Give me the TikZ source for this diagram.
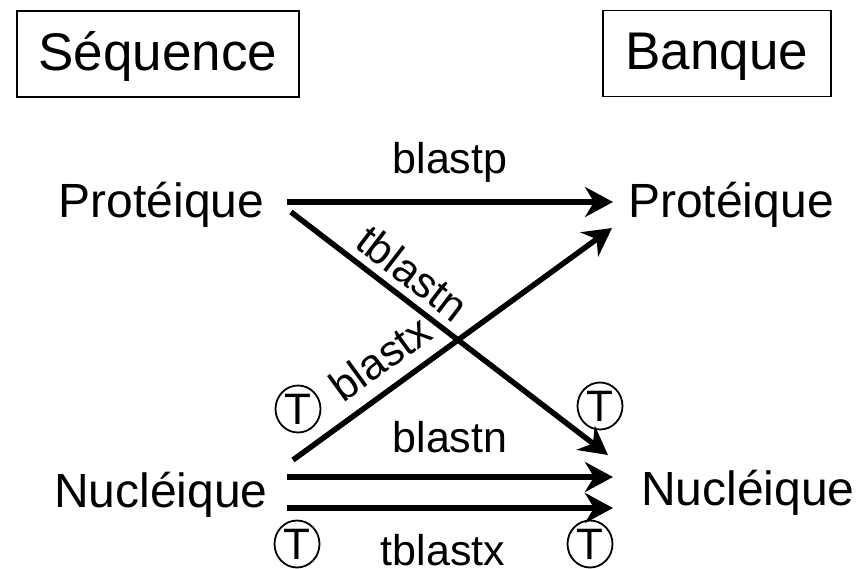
\documentclass[tikz,border=0pt]{standalone}
\usepackage{fontspec}
\setmainfont{Liberation Sans}
\usetikzlibrary{arrows.meta,shapes.geometric}
\tikzset{
 hdr/.style={draw,line width=1.8pt,inner sep=0pt,font=\fontsize{53}{60}\selectfont,text height=38pt,text depth=5pt,minimum height=86pt},
 kind/.style={anchor=base,inner sep=0pt,font=\fontsize{48}{56}\selectfont},
 prog/.style={inner sep=0pt,font=\fontsize{43}{50}\selectfont},
 tmark/.style={draw,ellipse,line width=1.8pt,minimum width=45pt,minimum height=47pt,inner sep=0pt,font=\fontsize{44}{50}\selectfont},
 conn/.style={line width=5.5pt,-{Stealth[length=28pt,width=30pt,inset=9pt]}}
}
\begin{document}
\begin{tikzpicture}[x=1pt,y=-1pt]
\useasboundingbox (0,0) rectangle (864,569);
\node[hdr,minimum width=282pt] (seq) at (158,54) {Séquence};
\node[hdr,minimum width=228pt] (bank) at (717,53.5) {Banque};
\node[kind] (protL) at (161.5,218) {Protéique};
\node[kind] (protR) at (731,218) {Protéique};
\node[kind] (nucL) at (161,507) {Nucléique};
\node[kind] (nucR) at (748,505) {Nucléique};
\coordinate (a1) at (287,202); \coordinate (b1) at (613,202);
\coordinate (a2) at (291,212); \coordinate (b2) at (608,455);
\coordinate (a3) at (293,460); \coordinate (b3) at (612,228);
\coordinate (a4) at (287,477); \coordinate (b4) at (613,477);
\coordinate (a5) at (287,508); \coordinate (b5) at (613,508);
\draw[conn] (a1) -- (b1);
\draw[conn] (a2) -- (b2);
\draw[conn] (a3) -- (b3);
\draw[conn] (a4) -- (b4);
\draw[conn] (a5) -- (b5);
\node[prog,anchor=base] (lp) at (450,174) {blastp};
\node[prog,rotate=-37.5] (ltn) at (413,273) {tblastn};
\node[prog,rotate=36] (lx) at (380,358) {blastx};
\node[prog,anchor=base] (ln) at (450,452) {blastn};
\node[prog,anchor=base] (ltx) at (443,565) {tblastx};
\node[tmark] (t1) at (298,409) {T};
\node[tmark] (t2) at (600,406) {T};
\node[tmark] (t3) at (297,544) {T};
\node[tmark] (t4) at (590,544) {T};
\end{tikzpicture}
\end{document}
